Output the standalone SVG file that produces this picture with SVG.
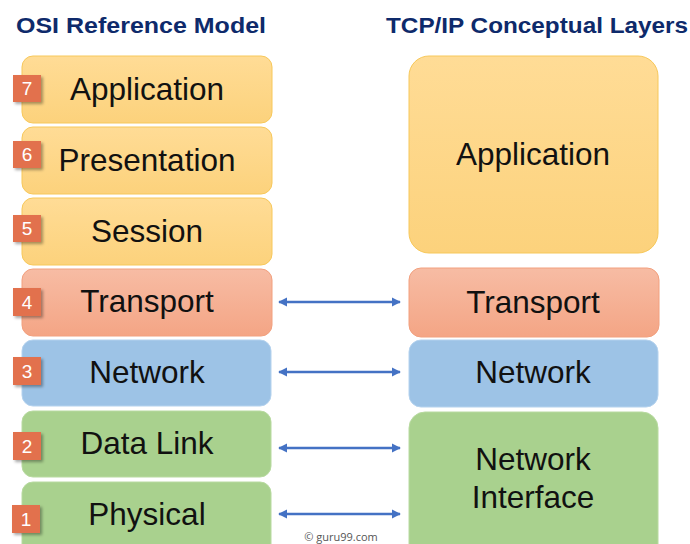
<svg xmlns="http://www.w3.org/2000/svg" width="690" height="544" viewBox="0 0 690 544">
  <defs>
    <linearGradient id="gY" x1="0" y1="0" x2="0" y2="1">
      <stop offset="0" stop-color="#FFDC96"/>
      <stop offset="1" stop-color="#FCD27C"/>
    </linearGradient>
    <linearGradient id="gO" x1="0" y1="0" x2="0" y2="1">
      <stop offset="0" stop-color="#F7BCA4"/>
      <stop offset="1" stop-color="#F4A585"/>
    </linearGradient>
    <filter id="sh" x="-30%" y="-30%" width="170%" height="170%">
      <feDropShadow dx="2" dy="2" stdDeviation="1.5" flood-color="#000" flood-opacity="0.35"/>
    </filter>
    <marker id="ah" viewBox="0 0 10 10" refX="9" refY="5" markerWidth="9" markerHeight="10" markerUnits="userSpaceOnUse" orient="auto-start-reverse">
      <path d="M0,0 L10,5 L0,10 z" fill="#4472C4"/>
    </marker>
    <style>
      .t { font-family: "Liberation Sans", Arial, sans-serif; font-size: 31.5px; fill: #111; text-anchor: middle; }
      .h { font-family: "Liberation Sans", Arial, sans-serif; font-size: 22px; font-weight: bold; fill: #0E2A6B; }
      .b { fill: #E2714E; filter: url(#sh); }
      .n { font-family: "Liberation Sans", Arial, sans-serif; font-size: 19px; fill: #fff; text-anchor: middle; }
      .y { fill: url(#gY); stroke: #F7C85A; stroke-width: 1; }
      .o { fill: url(#gO); stroke: #F2A07E; stroke-width: 1; }
      .bl { fill: #9DC3E6; stroke: #B4D2EE; stroke-width: 1; }
      .g { fill: #A9D18E; stroke: #B8DAA0; stroke-width: 1; }
      .c { stroke: #4472C4; stroke-width: 2.5; fill: none; marker-start: url(#ah); marker-end: url(#ah); }
    </style>
  </defs>
  <rect width="690" height="544" fill="#fff"/>

  <text class="h" x="16" y="33" textLength="250" lengthAdjust="spacingAndGlyphs">OSI Reference Model</text>
  <text class="h" x="386" y="33" textLength="302" lengthAdjust="spacingAndGlyphs">TCP/IP Conceptual Layers</text>

  <g id="osi-application">
    <rect class="y" x="22" y="56" width="250" height="67" rx="11"/>
    <text class="t" x="147" y="100">Application</text>
    <rect class="b" x="13" y="75" width="28" height="27"/>
    <text class="n" x="27" y="95">7</text>
  </g>
  <g id="osi-presentation">
    <rect class="y" x="22" y="127" width="250" height="67" rx="11"/>
    <text class="t" x="147" y="171">Presentation</text>
    <rect class="b" x="13" y="141" width="28" height="27"/>
    <text class="n" x="27" y="161">6</text>
  </g>
  <g id="osi-session">
    <rect class="y" x="22" y="198" width="250" height="67" rx="11"/>
    <text class="t" x="147" y="242">Session</text>
    <rect class="b" x="13" y="215" width="28" height="27"/>
    <text class="n" x="27" y="235">5</text>
  </g>
  <g id="osi-transport">
    <rect class="o" x="22" y="269" width="250" height="67" rx="11"/>
    <text class="t" x="147" y="312">Transport</text>
    <rect class="b" x="13" y="288" width="28" height="28"/>
    <text class="n" x="27" y="309">4</text>
  </g>
  <g id="osi-network">
    <rect class="bl" x="22" y="340" width="249" height="66" rx="11"/>
    <text class="t" x="147" y="383">Network</text>
    <rect class="b" x="13" y="357" width="28" height="28"/>
    <text class="n" x="27" y="378">3</text>
  </g>
  <g id="osi-datalink">
    <rect class="g" x="22" y="411" width="249" height="66" rx="11"/>
    <text class="t" x="147" y="454">Data Link</text>
    <rect class="b" x="13" y="432" width="28" height="28"/>
    <text class="n" x="27" y="453">2</text>
  </g>
  <g id="osi-physical">
    <rect class="g" x="22" y="482" width="249" height="80" rx="11"/>
    <text class="t" x="147" y="525">Physical</text>
    <rect class="b" x="12" y="505" width="28" height="28"/>
    <text class="n" x="26" y="526">1</text>
  </g>

  <g id="tcp-application">
    <rect class="y" x="409" y="56" width="249" height="197" rx="20"/>
    <text class="t" x="533" y="165">Application</text>
  </g>
  <g id="tcp-transport">
    <rect class="o" x="409" y="268" width="250" height="69" rx="12"/>
    <text class="t" x="533" y="313">Transport</text>
  </g>
  <g id="tcp-network">
    <rect class="bl" x="409" y="340" width="249" height="67" rx="12"/>
    <text class="t" x="533" y="383">Network</text>
  </g>
  <g id="tcp-netif">
    <rect class="g" x="409" y="412" width="249" height="150" rx="16"/>
    <text class="t" x="533" y="470">Network</text>
    <text class="t" x="533" y="508">Interface</text>
  </g>

  <g id="connectors">
    <line class="c" x1="279" y1="302" x2="400" y2="302"/>
    <line class="c" x1="279" y1="372" x2="400" y2="372"/>
    <line class="c" x1="279" y1="448" x2="400" y2="448"/>
    <line class="c" x1="279" y1="514" x2="400" y2="514"/>
  </g>

  <text x="341" y="541" font-family="'Open Sans', 'Liberation Sans', sans-serif" font-size="11" fill="#555" text-anchor="middle">© guru99.com</text>
</svg>
